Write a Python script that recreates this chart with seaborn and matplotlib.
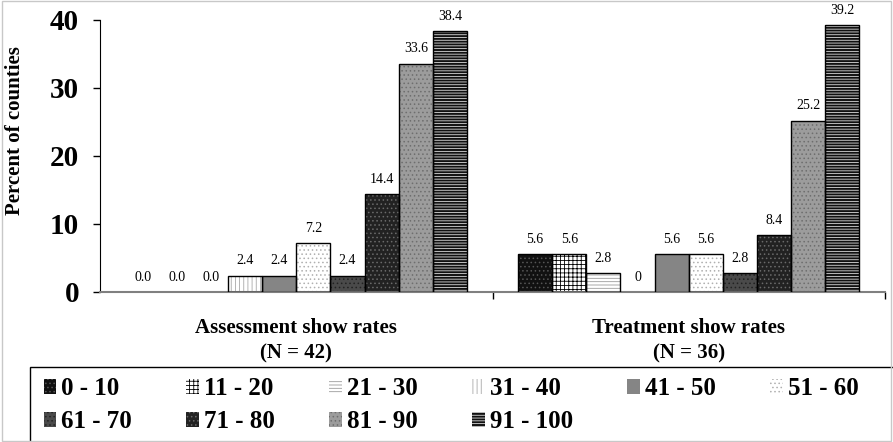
import pandas as pd
import matplotlib.pyplot as plt
import matplotlib.patches as mpatches
import seaborn as sns

# Show-rate bins (percent) and share of counties in each bin
bins = ['0 - 10', '11 - 20', '21 - 30', '31 - 40', '41 - 50',
        '51 - 60', '61 - 70', '71 - 80', '81 - 90', '91 - 100']
groups = ['Assessment show rates\n(N = 42)', 'Treatment show rates\n(N = 36)']
assessment = [0.0, 0.0, 0.0, 2.4, 2.4, 7.2, 2.4, 14.4, 33.6, 38.4]
treatment = [5.6, 5.6, 2.8, 0.0, 5.6, 5.6, 2.8, 8.4, 25.2, 39.2]
label_fmt = ['{:.1f}', '{:g}']

# face colour, hatch, hatch colour for each bin (greyscale Excel-like fills)
fills = [
    ('#111111', '....', '#555555'),
    ('white', '++++', 'black'),
    ('white', '-----', '#9a9a9a'),
    ('white', '||||', '#a8a8a8'),
    ('#858585', '', '#858585'),
    ('white', '....', '#b0b0b0'),
    ('#4a4a4a', '....', '#222222'),
    ('#222222', '....', '#6a6a6a'),
    ('#9c9c9c', '....', '#6e6e6e'),
    ('#111111', '------', '#dddddd'),
]

df = pd.DataFrame({
    'group': [groups[0]] * len(bins) + [groups[1]] * len(bins),
    'bin': bins * 2,
    'pct': assessment + treatment,
})

plt.rcParams['font.family'] = ['Liberation Serif', 'DejaVu Serif']
plt.rcParams['hatch.linewidth'] = 0.6

fig = plt.figure(figsize=(8.93, 4.42), dpi=100)
ax = fig.add_axes([100 / 893, 150 / 442, 785 / 893, 272 / 442])

sns.barplot(data=df, x='group', y='pct', hue='bin', hue_order=bins, order=groups,
            width=0.87, gap=0, legend=False, ax=ax, saturation=1)

for i, cont in enumerate(ax.containers):
    face, hatch, hcol = fills[i]
    for j, bar in enumerate(cont):
        bar.set_facecolor(face)
        bar.set_hatch(hatch)
        bar.set_edgecolor(hcol)
        bar.set_linewidth(0)
        # black outline drawn on top so the hatch can keep its own colour
        if bar.get_height() > 0:
            ax.add_patch(mpatches.Rectangle(bar.get_xy(), bar.get_width(), bar.get_height(),
                                            fill=False, edgecolor='black', linewidth=1.0, zorder=3))
        val = bar.get_height()
        ax.annotate(label_fmt[j].format(val), (bar.get_x() + bar.get_width() / 2, val),
                    xytext=(0, 6), textcoords='offset points', ha='center', va='bottom',
                    fontsize=10)

ax.set_xlim(-0.5, 1.5)
ax.set_ylim(0, 40)
ax.set_yticks([0, 10, 20, 30, 40])
ax.tick_params(axis='y', labelsize=21, length=5, width=1, pad=10, direction='out')
for t in ax.get_yticklabels():
    t.set_fontweight('bold')
ax.set_xticks([0, 1])
ax.set_xticklabels(groups, fontsize=15, fontweight='bold', linespacing=1.35)
ax.tick_params(axis='x', length=0, pad=19)
ax.set_xticks([0.5, 1.5], minor=True)
ax.tick_params(axis='x', which='minor', length=5, width=1, color='black')
ax.set_xlabel('')
ax.set_ylabel('Percent of counties', fontsize=15, fontweight='bold')
ax.yaxis.set_label_coords(-75 / 785, 0.595)

for side in ['top', 'right']:
    ax.spines[side].set_visible(False)
ax.spines['left'].set_color('black')
ax.spines['bottom'].set_color('#808080')
ax.spines['bottom'].set_linewidth(1.5)
ax.set_facecolor('white')

# legend: reorder so the column-major fill reads row by row like the reference
order = [0, 6, 1, 7, 2, 8, 3, 9, 4, 5]
handles = []
for i in order:
    face, hatch, hcol = fills[i]
    handles.append(mpatches.Patch(facecolor=face, hatch=hatch, edgecolor=hcol, linewidth=0))
leg = fig.legend(handles, [bins[i] for i in order], loc='lower left', ncol=6, mode='expand',
                 bbox_to_anchor=(35 / 893, 0, 832 / 893, 72 / 442),
                 borderaxespad=0, frameon=False,
                 prop={'size': 18, 'weight': 'bold'}, handlelength=0.5, handleheight=0.5,
                 handletextpad=0.2, labelspacing=0.4, borderpad=0.35)

fig.patches.append(mpatches.Rectangle((30 / 893, -0.01), 1, 75 / 442 + 0.01, transform=fig.transFigure,
                                      fill=False, edgecolor='black', linewidth=1))
fig.patches.append(mpatches.Rectangle((0.002, 0.002), 0.996, 0.996, transform=fig.transFigure,
                                      fill=False, edgecolor='#c8c8c8', linewidth=1))

fig.savefig('out.png', dpi=100)
